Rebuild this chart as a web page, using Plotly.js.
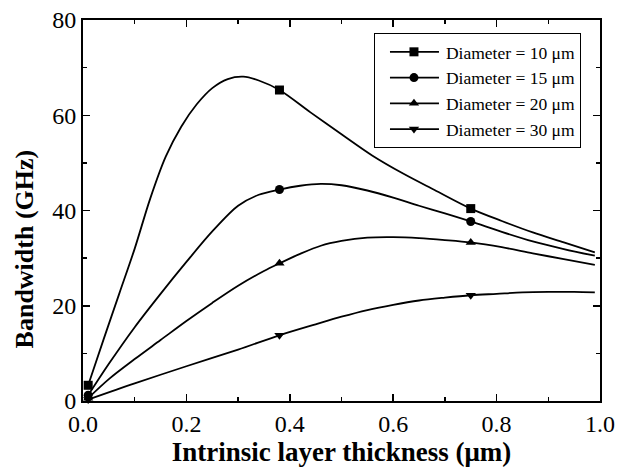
<!DOCTYPE html>
<html>
<head>
<meta charset="utf-8">
<script src="https://cdn.plot.ly/plotly-3.0.1.min.js"></script>
<style>html,body{margin:0;padding:0;background:#fff;}#chart{width:624px;height:467px;}</style>
</head>
<body>
<div id="chart"></div>
<script>
// Series names
const seriesNames = ['Diameter = 10 μm', 'Diameter = 15 μm', 'Diameter = 20 μm', 'Diameter = 30 μm'];
const markerSymbols = ['square', 'circle', 'triangle-up', 'triangle-down'];

// Curve samples (intrinsic layer thickness in μm, bandwidth in GHz)
const thick10 = [0.01, 0.04, 0.07, 0.10, 0.13, 0.16, 0.19, 0.22, 0.25, 0.28, 0.31, 0.34, 0.38, 0.44, 0.50, 0.56, 0.62, 0.68, 0.75, 0.81, 0.87, 0.93, 0.99];
const bw10    = [3.3, 13.0, 22.5, 32.0, 42.5, 51.3, 57.6, 62.3, 65.7, 67.6, 68.1, 67.3, 65.3, 60.6, 56.0, 51.5, 47.7, 44.3, 40.4, 37.8, 35.4, 33.3, 31.2];

const thick15 = [0.01, 0.05, 0.10, 0.15, 0.20, 0.25, 0.30, 0.34, 0.38, 0.42, 0.46, 0.50, 0.55, 0.60, 0.65, 0.70, 0.75, 0.81, 0.87, 0.93, 0.99];
const bw15    = [1.2, 7.8, 15.5, 22.5, 29.2, 35.6, 41.0, 43.3, 44.4, 45.2, 45.6, 45.3, 44.2, 42.7, 41.0, 39.4, 37.7, 35.5, 33.5, 31.9, 30.5];

const thick20 = [0.01, 0.05, 0.10, 0.15, 0.20, 0.25, 0.30, 0.35, 0.38, 0.42, 0.46, 0.50, 0.55, 0.60, 0.65, 0.70, 0.75, 0.81, 0.87, 0.93, 0.99];
const bw20    = [0.6, 4.6, 8.8, 12.8, 16.8, 20.6, 24.2, 27.3, 28.9, 30.9, 32.6, 33.6, 34.3, 34.4, 34.2, 33.8, 33.3, 32.3, 31.0, 29.8, 28.6];

const thick30 = [0.01, 0.10, 0.20, 0.30, 0.38, 0.45, 0.50, 0.55, 0.60, 0.65, 0.70, 0.75, 0.80, 0.85, 0.90, 0.95, 0.99];
const bw30    = [0.3, 3.7, 7.3, 10.8, 13.8, 16.1, 17.7, 19.1, 20.2, 21.1, 21.7, 22.2, 22.5, 22.8, 22.9, 22.9, 22.8];

// Marker points
const markerThick = [0.01, 0.38, 0.75];
const markerBw10 = [3.3, 65.3, 40.4];
const markerBw15 = [1.2, 44.4, 37.7];
const markerBw20 = [0.6, 28.9, 33.3];
const markerBw30 = [0.3, 13.8, 22.2];

// Axis tick labels
const xTickVals = [0, 0.2, 0.4, 0.6, 0.8, 1.0];
const xTickText = ['0.0', '0.2', '0.4', '0.6', '0.8', '1.0'];
const yTickVals = [0, 20, 40, 60, 80];

const curveX = [thick10, thick15, thick20, thick30];
const curveY = [bw10, bw15, bw20, bw30];
const markY = [markerBw10, markerBw15, markerBw20, markerBw30];

const traces = [];
for (let i = 0; i < 4; i++) {
  traces.push({
    x: curveX[i], y: curveY[i], type: 'scatter', mode: 'lines',
    line: {color: '#000', width: 1.8, shape: 'spline', smoothing: 0.9},
    showlegend: false, hoverinfo: 'skip'
  });
  traces.push({
    x: markerThick, y: markY[i], type: 'scatter', mode: 'markers',
    marker: {symbol: markerSymbols[i], size: 9, color: '#000'},
    showlegend: false, cliponaxis: false
  });
}
for (let i = 0; i < 4; i++) {
  traces.push({
    x: [null], y: [null], type: 'scatter', mode: 'lines+markers',
    name: seriesNames[i],
    line: {color: '#000', width: 1.8},
    marker: {symbol: markerSymbols[i], size: 9, color: '#000'}
  });
}

const fontFam = 'Liberation Serif';
const layout = {
  width: 624, height: 467,
  margin: {l: 83, r: 24, t: 20, b: 66},
  paper_bgcolor: '#fff', plot_bgcolor: '#fff',
  font: {family: fontFam, color: '#000', size: 22},
  xaxis: {
    range: [0, 1.0], tickvals: xTickVals, ticktext: xTickText,
    ticks: 'inside', ticklen: 7, tickwidth: 1.5, tickcolor: '#000',
    minor: {dtick: 0.1, tick0: 0, ticks: 'inside', ticklen: 4, tickwidth: 1.5, tickcolor: '#000'},
    showline: true, linecolor: '#000', linewidth: 2, mirror: 'allticks',
    showgrid: false, zeroline: false,
    tickfont: {size: 24, family: fontFam, color: '#000'},
    title: {text: '<b>Intrinsic layer thickness (μm)</b>', font: {size: 27, family: fontFam, color: '#000'}, standoff: 4}
  },
  yaxis: {
    range: [0, 80], tickvals: yTickVals,
    ticks: 'inside', ticklen: 7, tickwidth: 1.5, tickcolor: '#000',
    minor: {dtick: 10, tick0: 0, ticks: 'inside', ticklen: 4, tickwidth: 1.5, tickcolor: '#000'},
    showline: true, linecolor: '#000', linewidth: 2, mirror: 'allticks',
    showgrid: false, zeroline: false,
    tickfont: {size: 24, family: fontFam, color: '#000'}
  },
  annotations: [{
    xref: 'paper', yref: 'paper', x: -0.114, y: 0.398, xanchor: 'center', yanchor: 'middle',
    textangle: -90, showarrow: false,
    text: '<b>Bandwidth (GHz)</b>', font: {size: 26, family: fontFam, color: '#000'}
  }],
  legend: {
    x: 0.763, y: 0.966, xanchor: 'center', yanchor: 'top',
    bgcolor: '#fff', bordercolor: '#000', borderwidth: 1,
    font: {size: 17.5, family: fontFam, color: '#000'},
    itemwidth: 61, tracegroupgap: 0
  },
  showlegend: true
};

Plotly.newPlot('chart', traces, layout, {staticPlot: true, displayModeBar: false}).then(function (gd) {
  try {
    // lengthen legend sample lines to span the symbol area, marker centred on them
    gd.querySelectorAll('.legend .traces').forEach(function (tr) {
      tr.querySelectorAll('.legendlines path').forEach(function (p) { p.setAttribute('d', 'M15,0h49'); });
      tr.querySelectorAll('.legendpoints path').forEach(function (p) { p.setAttribute('transform', 'translate(39,0)'); });
    });
  } catch (e) {}
});
</script>
</body>
</html>
